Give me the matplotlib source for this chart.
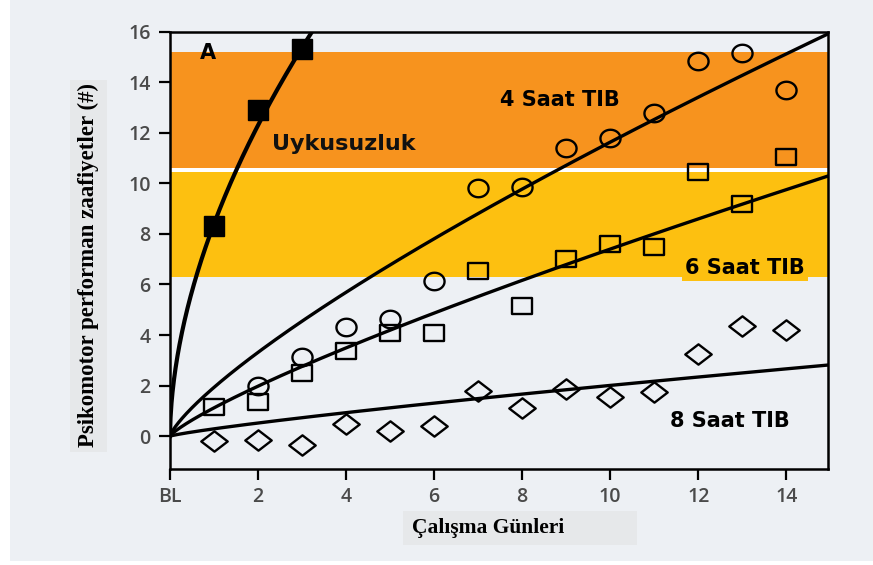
import numpy as np
import matplotlib.pyplot as plt
from matplotlib.patches import Rectangle
from matplotlib.path import Path

# days of the study (0 = baseline)
days = [1, 2, 3, 4, 5, 6, 7, 8, 9, 10, 11, 12, 13, 14]

# total sleep deprivation (only first three days)
sd_days = [1, 2, 3]
sd_vals = [8.3, 12.9, 15.3]

# 4 h time in bed
tib4_days = [2, 3, 4, 5, 6, 7, 8, 9, 10, 11, 12, 13, 14]
tib4_vals = [2.0, 3.15, 4.3, 4.65, 6.15, 9.8, 9.85, 11.4, 11.8, 12.8, 14.85, 15.15, 13.7]

# 6 h time in bed
tib6_vals = [1.15, 1.35, 2.5, 3.35, 4.1, 4.1, 6.55, 5.15, 7.0, 7.6, 7.5, 10.45, 9.2, 11.05]

# 8 h time in bed
tib8_vals = [-0.2, -0.15, -0.35, 0.5, 0.2, 0.4, 1.8, 1.1, 1.85, 1.55, 1.75, 3.25, 4.35, 4.2]

# power-law model curves y = a * t^b
model_a = {"sd": 8.4, "4h": 1.93, "6h": 1.12, "8h": 0.29}
model_b = {"sd": 0.55, "4h": 0.78, "6h": 0.82, "8h": 0.84}

xtick_pos = [0, 2, 4, 6, 8, 10, 12, 14]
xtick_lab = ["BL", "2", "4", "6", "8", "10", "12", "14"]
ytick_pos = [0, 2, 4, 6, 8, 10, 12, 14, 16]

panel = "#edf0f4"
orange = "#f7931e"
yellow = "#fdc010"

# slightly wide marker shapes
ang = np.linspace(0, 2 * np.pi, 41)
oval = Path(np.column_stack([1.15 * np.cos(ang), np.sin(ang)]), closed=True)
wide_sq = Path([(-1.2, -0.95), (1.2, -0.95), (1.2, 0.95), (-1.2, 0.95), (-1.2, -0.95)],
               closed=True)
wide_dia = Path([(-1.3, 0), (0, 1), (1.3, 0), (0, -1), (-1.3, 0)], closed=True)

fig = plt.figure(figsize=(8.73, 5.65), dpi=100, facecolor="white")
fig.patches.append(Rectangle((10 / 873, 4 / 565), 1, 1, transform=fig.transFigure,
                             facecolor=panel, edgecolor="none", zorder=-10))
# grey boxes behind the axis titles
fig.patches.append(Rectangle((403 / 873, 1 - 545 / 565), 234 / 873, 34 / 565,
                             transform=fig.transFigure, facecolor="#e6e8ea",
                             edgecolor="none", zorder=-5))
fig.patches.append(Rectangle((70 / 873, 1 - 452 / 565), 37 / 873, 372 / 565,
                             transform=fig.transFigure, facecolor="#e6e8ea",
                             edgecolor="none", zorder=-5))

ax = fig.add_axes([170 / 873, 1 - 469 / 565, 658 / 873, 437.3 / 565])
ax.set_facecolor(panel)
ax.set_xlim(0, 14.95)
ax.set_ylim(-1.3, 16)

ax.axhspan(10.6, 15.2, color=orange, lw=0, zorder=0)
ax.axhspan(10.45, 10.6, color="white", lw=0, zorder=0)
ax.axhspan(6.3, 10.45, color=yellow, lw=0, zorder=0)

t = np.linspace(0, 15, 600)
for key in ["4h", "6h", "8h"]:
    ax.plot(t, model_a[key] * t ** model_b[key], color="black", lw=2.4, zorder=3)
ts = np.linspace(0, 3.4, 300)
ax.plot(ts, model_a["sd"] * ts ** model_b["sd"], color="black", lw=3.0, zorder=3)

mk = dict(linestyle="none", markerfacecolor="none", markeredgecolor="black",
          markeredgewidth=1.7, zorder=4)
ax.plot(tib4_days, tib4_vals, marker=oval, markersize=14.5, **mk)
ax.plot(days, tib6_vals, marker=wide_sq, markersize=14.5, **mk)
ax.plot(days, tib8_vals, marker=wide_dia, markersize=19, **mk)
ax.plot(sd_days, sd_vals, linestyle="none", marker="s", markersize=15,
        color="black", zorder=5)

lab = dict(fontfamily="DejaVu Sans", fontweight="bold", fontsize=15,
           color="black", va="center", zorder=6)
ax.text(0.86, 15.15, "A", ha="center", **lab)
ax.text(2.32, 11.55, "Uykusuzluk", ha="left", **{**lab, "fontsize": 16, "color": "#111111"})
ax.text(7.5, 13.3, "4 Saat TIB", ha="left", **lab)
ax.text(11.7, 6.65, "6 Saat TIB", ha="left",
        bbox=dict(boxstyle="square,pad=0.15", facecolor=yellow, edgecolor="none"), **lab)
ax.text(11.36, 0.6, "8 Saat TIB", ha="left", **lab)

ax.set_xticks(xtick_pos)
ax.set_xticklabels(xtick_lab)
ax.set_yticks(ytick_pos)
ax.tick_params(direction="out", length=8, width=1.6, color="black",
               labelsize=14, labelcolor="#4a4a4a")
ax.tick_params(axis="y", pad=6)
ax.tick_params(axis="x", pad=5)
for lbl in ax.get_xticklabels() + ax.get_yticklabels():
    lbl.set_fontfamily("Open Sans")
    lbl.set_fontweight("semibold")
for s in ax.spines.values():
    s.set_linewidth(1.8)
    s.set_color("black")

fig.text(488 / 873, 1 - 528 / 565, "Çalışma Günleri", ha="center", va="center",
         fontfamily="Liberation Serif", fontweight="bold", fontsize=15.5)
fig.text(88 / 873, 1 - 265 / 565, "Psikomotor performan zaafiyetler (#)",
         ha="center", va="center", rotation=90,
         fontfamily="Liberation Serif", fontweight="bold", fontsize=16.5)

fig.savefig("out.png", dpi=100, facecolor=fig.get_facecolor())
